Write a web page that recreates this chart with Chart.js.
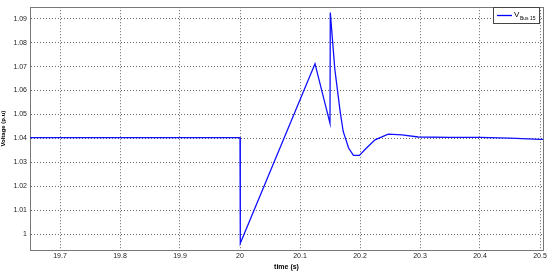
<!DOCTYPE html>
<html>
<head>
<meta charset="utf-8">
<script src="https://cdn.jsdelivr.net/npm/chart.js@4/dist/chart.umd.min.js"></script>
<style>
  html, body { margin: 0; padding: 0; background: #fff; }
  #wrap { width: 550px; height: 271px; }
</style>
</head>
<body>
<div id="wrap"><canvas id="voltChart" width="550" height="271"></canvas></div>
<script>
// time (s) and bus 15 voltage (p.u)
const times = [19.65, 20.0, 20.0005, 20.125, 20.15, 20.1505, 20.158, 20.167, 20.172, 20.181, 20.189, 20.199, 20.21, 20.225, 20.247, 20.27, 20.297, 20.35, 20.4, 20.45, 20.5, 20.505];
const volts = [1.0403, 1.0403, 0.9962, 1.0712, 1.0463, 1.0926, 1.069, 1.0511, 1.0429, 1.036, 1.0329, 1.0329, 1.0358, 1.0394, 1.0418, 1.0415, 1.0406, 1.0404, 1.0404, 1.0401, 1.0396, 1.0396];
const xTicks = [19.7, 19.8, 19.9, 20.0, 20.1, 20.2, 20.3, 20.4, 20.5];
const yTicks = [1.00, 1.01, 1.02, 1.03, 1.04, 1.05, 1.06, 1.07, 1.08, 1.09];

const points = times.map((t, i) => ({ x: t, y: volts[i] }));

// matlab style legend box with subscript
const legendBox = {
  id: 'legendBox',
  afterDraw(chart) {
    const c = chart.ctx;
    const x = 493, y = 7, w = 46, h = 16;
    c.save();
    c.fillStyle = '#fff';
    c.fillRect(x, y, w, h);
    c.strokeStyle = '#444';
    c.lineWidth = 1;
    c.strokeRect(x + 0.5, y + 0.5, w, h);
    c.strokeStyle = '#0000ff';
    c.lineWidth = 1.3;
    c.beginPath();
    c.moveTo(x + 4, y + 8.5);
    c.lineTo(x + 19, y + 8.5);
    c.stroke();
    c.fillStyle = '#000';
    c.font = '8px "Liberation Sans", Arial, sans-serif';
    c.textBaseline = 'alphabetic';
    c.fillText('V', x + 21, y + 10);
    c.font = '5px "Liberation Sans", Arial, sans-serif';
    c.fillText('Bus 15', x + 27, y + 13);
    c.restore();
  }
};

new Chart(document.getElementById('voltChart').getContext('2d'), {
  type: 'line',
  data: {
    datasets: [{
      label: 'V Bus 15',
      data: points,
      borderColor: '#1010ff',
      borderWidth: 1.3,
      pointRadius: 0,
      fill: false,
      tension: 0
    }]
  },
  options: {
    responsive: false,
    animation: false,
    layout: { padding: { top: 4, right: 7, left: 0, bottom: 0 } },
    plugins: { legend: { display: false }, tooltip: { enabled: false } },
    scales: {
      x: {
        type: 'linear',
        min: 19.65,
        max: 20.505,
        afterBuildTicks: (s) => { s.ticks = xTicks.map(v => ({ value: v })); },
        afterFit: (s) => { s.height = 21; },
        ticks: {
          color: '#222',
          font: { size: 7, family: '"Liberation Sans", Arial, sans-serif' },
          padding: 2,
          maxRotation: 0,
          callback: (v) => (Math.round(v * 10) / 10).toString()
        },
        grid: { color: '#666', lineWidth: 1, drawTicks: false },
        border: { display: true, color: '#777', width: 1, dash: [1, 2] },
        title: {
          display: true,
          text: 'time (s)',
          color: '#000',
          font: { size: 7, weight: 'bold', family: '"Liberation Sans", Arial, sans-serif' },
          padding: { top: 0, bottom: 0 }
        }
      },
      y: {
        type: 'linear',
        min: 0.9934,
        max: 1.0948,
        afterBuildTicks: (s) => { s.ticks = yTicks.map(v => ({ value: v })); },
        afterFit: (s) => { s.width = 30; },
        ticks: {
          color: '#222',
          font: { size: 7, family: '"Liberation Sans", Arial, sans-serif' },
          padding: 3,
          callback: (v) => (Math.round(v * 100) / 100).toString()
        },
        grid: { color: '#666', lineWidth: 1, drawTicks: false },
        border: { display: true, color: '#777', width: 1, dash: [1, 2] },
        title: {
          display: true,
          text: 'Voltage (p.u)',
          color: '#000',
          font: { size: 6, weight: 'bold', family: '"Liberation Sans", Arial, sans-serif' },
          padding: { top: 0, bottom: 0 }
        }
      }
    }
  },
  plugins: [legendBox, {
    id: 'frame',
    beforeDatasetsDraw(chart) {
      // solid box round the plot area
      const { ctx, chartArea: a } = chart;
      ctx.save();
      ctx.strokeStyle = '#777';
      ctx.lineWidth = 1;
      ctx.strokeRect(Math.round(a.left) + 0.5, Math.round(a.top) + 0.5, Math.round(a.right - a.left), Math.round(a.bottom - a.top));
      ctx.restore();
    }
  }]
});
</script>
</body>
</html>
